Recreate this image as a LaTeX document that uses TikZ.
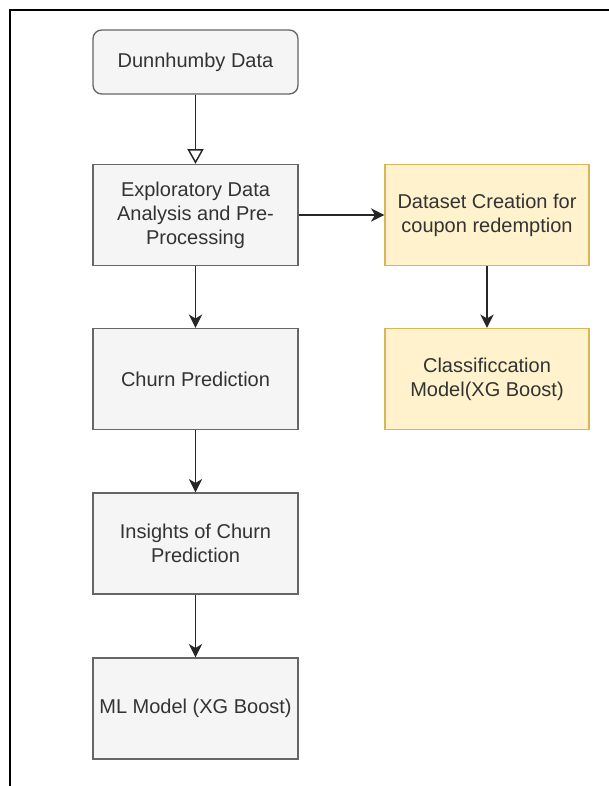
\documentclass[tikz,border=0pt]{standalone}
\usepackage{fontspec}
\setmainfont{Liberation Sans}
\usepackage{tikz}
\usetikzlibrary{arrows.meta}

\definecolor{boxfill}{HTML}{F5F5F5}
\definecolor{boxline}{HTML}{666666}
\definecolor{notefill}{HTML}{FFF2CC}
\definecolor{noteline}{HTML}{D6B656}
\definecolor{txt}{HTML}{333333}

\begin{document}
\begin{tikzpicture}[x=0.75pt, y=-0.75pt,
  proc/.style={draw=boxline, fill=boxfill, line width=1pt, minimum width=153.75pt,
    minimum height=75.75pt, align=center, text=txt, inner sep=0pt,
    font=\fontsize{15}{18}\selectfont},
  yellowproc/.style={proc, draw=noteline, fill=notefill, minimum width=153pt},
  flow/.style={-{Stealth[length=10pt, width=10pt, inset=3pt]}, line width=1.1pt, draw=black!85}]
\useasboundingbox (0,0) rectangle (609,786);
% frame
\draw[line width=1.5pt] (10,786) -- (10,9.5) -- (609,9.5);
%----------------- main column -----------------
\node[proc, rounded corners=6.5pt, minimum height=48pt] (data) at (195.5,62) {Dunnhumby Data};
\node[proc] (eda) at (195.5,215) {Exploratory Data\\Analysis and Pre-\\Processing};
\node[proc] (churn) at (195.5,379) {Churn Prediction};
\node[proc] (insights) at (195.5,543.5) {Insights of Churn\\Prediction};
\node[proc] (ml) at (195.5,708.5) {ML Model (XG Boost)};
%----------------- coupon branch -----------------
\node[yellowproc] (dataset) at (487,215) {Dataset Creation for\\coupon redemption};
\node[yellowproc] (classif) at (487,379) {Classificcation\\Model(XG Boost)};
% connectors
\draw[-{Triangle[open, length=11pt, width=12pt]}, line width=1.1pt, draw=black!85] (data) -- (eda);
\draw[flow] (eda) -- (churn);
\draw[flow] (churn) -- (insights);
\draw[flow] (insights) -- (ml);
\draw[flow] (eda) -- (dataset);
\draw[flow] (dataset) -- (classif);
\end{tikzpicture}
\end{document}
